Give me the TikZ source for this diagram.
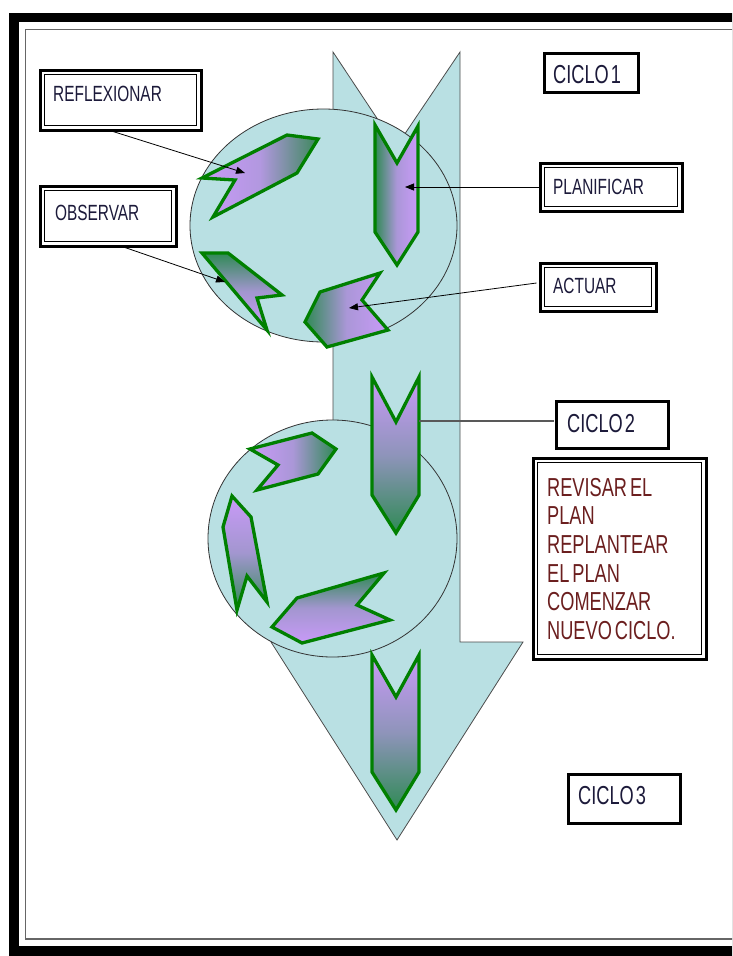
\documentclass[tikz,border=0pt]{standalone}
\usepackage{fontspec}
\setmainfont{Liberation Sans}[FakeStretch=0.7]
\usetikzlibrary{arrows.meta}
\definecolor{aqua}{HTML}{B9E0E3}
\definecolor{pur}{HTML}{C99AF8}
\definecolor{grn}{HTML}{2F8A55}
\definecolor{edgegreen}{HTML}{008000}
\definecolor{ink}{HTML}{1C1A3A}
\definecolor{revred}{HTML}{6B1E1E}
\begin{document}
\begin{tikzpicture}[x=1pt,y=-1pt,
  bigshape/.style={draw=black!70, line width=0.8pt, fill=aqua},
  chev/.style={draw=edgegreen, line width=3.3pt, line join=miter},
  conn/.style={draw=black, line width=0.8pt, -{Triangle[length=9pt,width=7pt]}},
  lbl/.style={font=\fontsize{22}{26}\selectfont, text=ink, inner sep=0pt, anchor=west},
  biglbl/.style={font=\fontsize{26}{28.6}\selectfont, text=ink, inner sep=0pt, anchor=west},
  dblbox/.style={draw=black, line width=1pt, fill=white, inner sep=0pt},
  outerframe/.style={draw=black, line width=3pt},
  sglbox/.style={draw=black, line width=2.5pt, fill=white, inner sep=0pt}]
\useasboundingbox (0,0) rectangle (732,956);
\clip (0,0) rectangle (732,956);
% page frame
\fill[white] (0,0) rectangle (732,956);
\fill[black] (9,13) rectangle (760,960);
\fill[white] (19,22) rectangle (750,946);
\draw[black!60, line width=1.2pt] (25.5,29.5) rectangle (760,939);
% big arrow
\path[bigshape] (333,52) -- (396,147) -- (460,52) -- (460,642) -- (523,642)
   -- (397,840) -- (271,642) -- (333,642) -- cycle;
% circles
\path[bigshape, draw=black!80] (323.5,225.5) ellipse [x radius=133.5pt, y radius=116.5pt];
\path[bigshape, draw=black!80] (332.5,538.5) ellipse [x radius=124.5pt, y radius=118.5pt];
% chevrons cycle 1
\path[chev, left color=pur, right color=grn!85!gray, middle color=pur!85!grn] (202,178) -- (287,135) -- (318,139) -- (297,173) -- (213,217) -- (235,180) -- cycle;
\path[chev, left color=grn, right color=pur, middle color=pur!80!grn] (375,125) -- (397,163) -- (418,126) -- (418,232) -- (397,265) -- (375,232) -- cycle;
\path[chev, top color=grn, bottom color=pur, middle color=pur!75!grn] (202,253) -- (228,253) -- (282,295) -- (257,298) -- (267,330) -- cycle;
\path[chev, left color=grn, right color=pur, middle color=pur!80!grn] (380,273) -- (362,300) -- (388,330) -- (327,347) -- (305,322) -- (320,292) -- cycle;
% chevrons cycle 2
\path[chev, left color=pur, right color=grn, middle color=pur!80!grn] (250,449) -- (312,433) -- (336,449) -- (318,474) -- (257,490) -- (278,465) -- cycle;
\path[chev, top color=pur, bottom color=grn, middle color=pur!75!grn] (232,496) -- (251,517) -- (267,602) -- (247,576) -- (237,610) -- (223,527) -- cycle;
\path[chev, top color=grn, bottom color=pur, middle color=pur!75!grn] (384,573) -- (357,605) -- (390,620) -- (302,643) -- (272,627) -- (297,598) -- cycle;
\path[chev, top color=pur, bottom color=grn, middle color=pur!62!grn] (372,377) -- (396,422) -- (419,377) -- (419,495) -- (396,533) -- (372,495) -- cycle;
% chevron cycle 3
\path[chev, top color=pur, bottom color=grn, middle color=pur!62!grn] (372,655) -- (396,697) -- (419,655) -- (419,772) -- (396,810) -- (372,772) -- cycle;
% connector end points
\coordinate (t1) at (245,173);
\coordinate (t2) at (225,282);
\coordinate (t3) at (405,187);
\coordinate (t4) at (349,308);
\coordinate (t5) at (419,421);
% label boxes
\node[dblbox, minimum width=152pt, minimum height=51pt] (refl) at (120.5,100) {};
\draw[outerframe] ([shift={(-4pt,4pt)}]refl.north west) rectangle ([shift={(4pt,-4pt)}]refl.south east);
\node[dblbox, minimum width=127pt, minimum height=51pt] (obs) at (108,216) {};
\draw[outerframe] ([shift={(-4pt,4pt)}]obs.north west) rectangle ([shift={(4pt,-4pt)}]obs.south east);
\node[dblbox, minimum width=133pt, minimum height=39pt] (plan) at (611,187) {};
\draw[outerframe] ([shift={(-4pt,4pt)}]plan.north west) rectangle ([shift={(4pt,-4pt)}]plan.south east);
\node[dblbox, minimum width=107pt, minimum height=39pt] (act) at (598,287) {};
\draw[outerframe] ([shift={(-4pt,4pt)}]act.north west) rectangle ([shift={(4pt,-4pt)}]act.south east);
\node[dblbox, minimum width=164pt, minimum height=192pt] (rev) at (619.5,558.5) {};
\draw[outerframe] ([shift={(-4pt,4pt)}]rev.north west) rectangle ([shift={(4pt,-4pt)}]rev.south east);
\node[sglbox, minimum width=94pt, minimum height=39pt] (c1) at (591.5,73) {};
\node[sglbox, minimum width=112pt, minimum height=47pt] (c2) at (612.5,425) {};
\node[sglbox, minimum width=112pt, minimum height=49pt] (c3) at (624.5,799) {};
% connectors
\draw[conn] ([shift={(-7.5pt,-5.5pt)}]refl.south) -- (t1);
\draw[conn] ([shift={(17pt,-5.5pt)}]obs.south) -- (t2);
\draw[conn] ([xshift=-5.5pt]plan.west) -- (t3);
\draw[conn] ([shift={(-7.5pt,4pt)}]act.west) -- (t4);
\draw[black!65, line width=1.2pt] ([shift={(-1.5pt,4pt)}]c2.west) -- (t5);
% texts
\node[lbl] (reflt) at (53,93.5) {REFLEXIONAR};
\node[lbl] (obst) at (55,212.5) {OBSERVAR};
\node[lbl] (plant) at (553,186.5) {PLANIFICAR};
\node[lbl] (actt) at (553,286) {ACTUAR};
\node[biglbl] (c1t) at (553,75) {CICLO\hspace{2pt}1};
\node[biglbl] (c2t) at (567,424) {CICLO\hspace{2pt}2};
\node[biglbl] (c3t) at (578,795.5) {CICLO\hspace{2pt}3};
\node[biglbl, text=revred, anchor=north west, align=left] (revt) at (547,478)
  {REVISAR\hspace{3pt}EL\\PLAN\\REPLANTEAR\\EL\hspace{3pt}PLAN\\COMENZAR\\NUEVO\hspace{3pt}CICLO.};
\end{tikzpicture}
\end{document}
